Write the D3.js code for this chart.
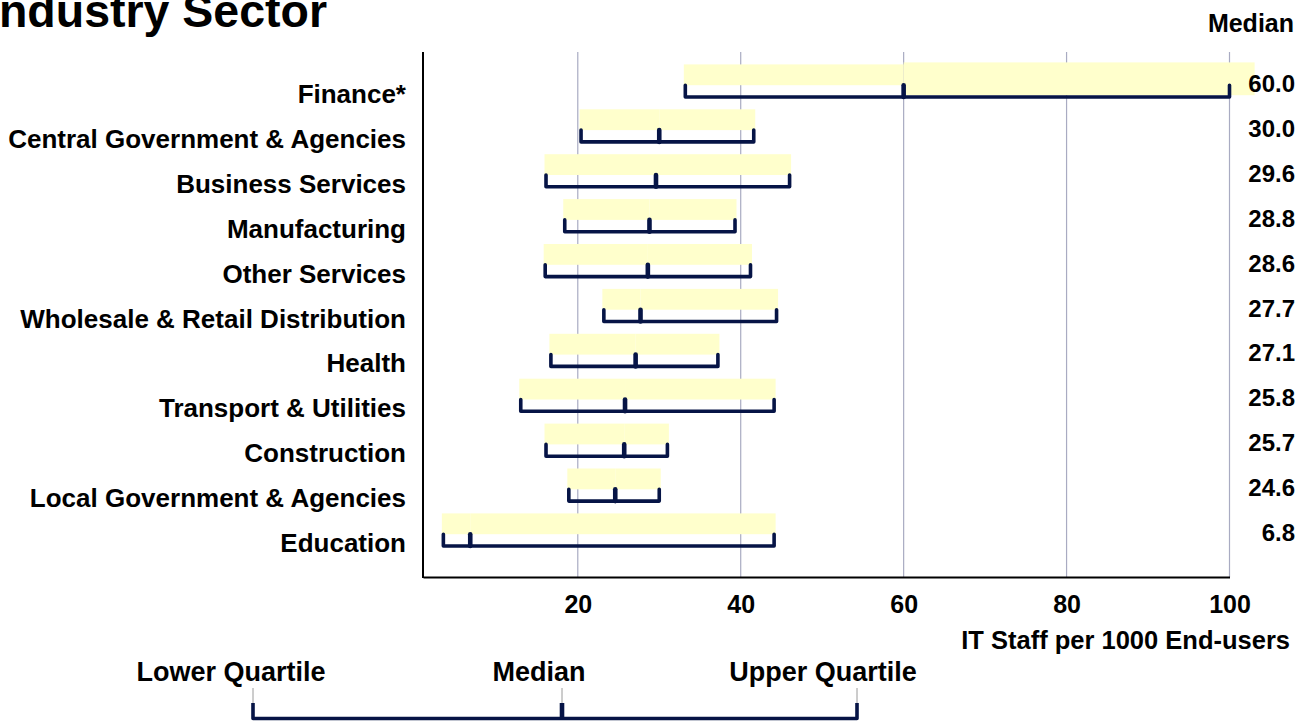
<!DOCTYPE html>
<html>
<head>
<meta charset="utf-8">
<script src="https://cdn.jsdelivr.net/npm/d3@7"></script>
<style>
  body { margin: 0; background: #fff; }
  svg { display: block; }
  text { font-family: "Liberation Sans", Arial, Helvetica, sans-serif; font-weight: bold; fill: #000; }
</style>
</head>
<body>
<svg id="chart" width="1310" height="722"></svg>
<script>
// IT staff per 1000 end-users, quartiles by industry sector
const sectors = [
  "Finance*",
  "Central Government & Agencies",
  "Business Services",
  "Manufacturing",
  "Other Services",
  "Wholesale & Retail Distribution",
  "Health",
  "Transport & Utilities",
  "Construction",
  "Local Government & Agencies",
  "Education"
];
const lowerQuartile = [33.2, 20.4, 16.1, 18.4, 16.0, 23.2, 16.7, 13.0, 16.1, 18.9, 3.5];
const median        = [60.0, 30.0, 29.6, 28.8, 28.6, 27.7, 27.1, 25.8, 25.7, 24.6, 6.8];
const upperQuartile = [102.9, 41.6, 46.0, 39.3, 41.2, 44.4, 37.2, 44.1, 31.0, 30.0, 44.1];
const xTicks = [20, 40, 60, 80, 100];
const legendKeys = ["Lower Quartile", "Median", "Upper Quartile"];

const rows = sectors.map((s, i) => ({
  sector: s, lq: lowerQuartile[i], med: median[i], uq: upperQuartile[i]
}));

const NAVY = "#061446";
const BAND = "#ffffcc";
const GRID = "#a9abc2";

const svg = d3.select("#chart");

const plotTop = 52, plotBottom = 577;
const xMin = 1, xMax = 100;
const x = d3.scaleLinear().domain([xMin, xMax]).range([423, 1229.5]);
const y = d3.scaleBand().domain(sectors).range([plotTop, plotTop + sectors.length * 44.9]).paddingInner(0);

// Title (runs off the left edge)
svg.append("text")
  .attr("x", -14).attr("y", 27)
  .style("font-size", "46.5px")
  .text("Industry Sector");

// Gridlines
svg.append("g").selectAll("line")
  .data(xTicks)
  .join("line")
  .attr("x1", d => x(d)).attr("x2", d => x(d))
  .attr("y1", plotTop).attr("y2", plotBottom)
  .attr("stroke", GRID).attr("stroke-width", 1.2);

// Axes
const xAxis = d3.axisBottom(x).tickValues(xTicks).tickSize(0).tickPadding(0);
const gx = svg.append("g").attr("transform", `translate(0,${plotBottom})`).call(xAxis);
gx.select(".domain").attr("stroke", "#000").attr("stroke-width", 2);
gx.selectAll(".tick text")
  .attr("y", 36).attr("dy", 0)
  .style("font-size", "25px")
  .attr("fill", "#000");

svg.append("line")
  .attr("x1", x(xMin)).attr("x2", x(xMin))
  .attr("y1", plotTop).attr("y2", plotBottom + 1)
  .attr("stroke", "#000").attr("stroke-width", 2);

svg.append("text")
  .attr("x", 1290).attr("y", 649)
  .attr("text-anchor", "end")
  .style("font-size", "25.5px")
  .text("IT Staff per 1000 End-users");

// Interquartile bands
const bandTop = 12.4, bandH = 20.8;
const gBands = svg.append("g");
rows.forEach(r => {
  const top = y(r.sector) + bandTop;
  gBands.append("rect")
    .attr("x", x(r.lq) - 1.5).attr("y", top)
    .attr("width", x(r.med) - x(r.lq) + 1.5).attr("height", bandH)
    .attr("fill", BAND);
  const over = r.uq > xMax;
  gBands.append("rect")
    .attr("x", x(r.med)).attr("y", over ? top - 2 : top)
    .attr("width", x(r.uq) - x(r.med) + 1.5).attr("height", over ? bandH + 12 : bandH)
    .attr("fill", BAND);
});

// Brackets: lower quartile, median, upper quartile (clipped at axis max)
const gBr = svg.append("g")
  .attr("fill", "none").attr("stroke", NAVY)
  .attr("stroke-linejoin", "round").attr("stroke-linecap", "round");
rows.forEach(r => {
  const top = y(r.sector) + bandTop + bandH;
  const base = y(r.sector) + 45;
  const xl = x(r.lq), xm = x(r.med), xu = x(Math.min(r.uq, xMax));
  gBr.append("path")
    .attr("d", `M${xl},${top}V${base}H${xu}V${top}`)
    .attr("stroke-width", 3.6);
  gBr.append("line")
    .attr("x1", xm).attr("x2", xm).attr("y1", top).attr("y2", base)
    .attr("stroke-width", 4.6);
});

// Category labels
svg.append("g").selectAll("text")
  .data(rows)
  .join("text")
  .attr("x", 406)
  .attr("y", d => y(d.sector) + 51)
  .attr("text-anchor", "end")
  .style("font-size", "26px")
  .text(d => d.sector);

// Median column
svg.append("text")
  .attr("x", 1294).attr("y", 32)
  .attr("text-anchor", "end")
  .style("font-size", "25px")
  .text("Median");

svg.append("g").selectAll("text")
  .data(rows)
  .join("text")
  .attr("x", 1295)
  .attr("y", d => y(d.sector) + 40)
  .attr("text-anchor", "end")
  .style("font-size", "24px")
  .text(d => d3.format(".1f")(d.med));

// Key
const keyTicks = [253, 562, 857];
const keyText = [231, 539, 823];
const gKey = svg.append("g");
gKey.selectAll("text")
  .data(legendKeys)
  .join("text")
  .attr("x", (d, i) => keyText[i])
  .attr("y", 681)
  .attr("text-anchor", "middle")
  .style("font-size", "27px")
  .text(d => d);
gKey.selectAll("line.connector")
  .data(keyTicks)
  .join("line")
  .attr("class", "connector")
  .attr("x1", d => d).attr("x2", d => d)
  .attr("y1", 688).attr("y2", 703)
  .attr("stroke", "#9a9a9a").attr("stroke-width", 1);
gKey.append("path")
  .attr("d", `M${keyTicks[0]},703V718.5H${keyTicks[2]}V703`)
  .attr("fill", "none").attr("stroke", NAVY).attr("stroke-width", 3.6)
  .attr("stroke-linejoin", "round");
gKey.append("line")
  .attr("x1", keyTicks[1]).attr("x2", keyTicks[1])
  .attr("y1", 703).attr("y2", 718.5)
  .attr("stroke", NAVY).attr("stroke-width", 4.6);
</script>
</body>
</html>
